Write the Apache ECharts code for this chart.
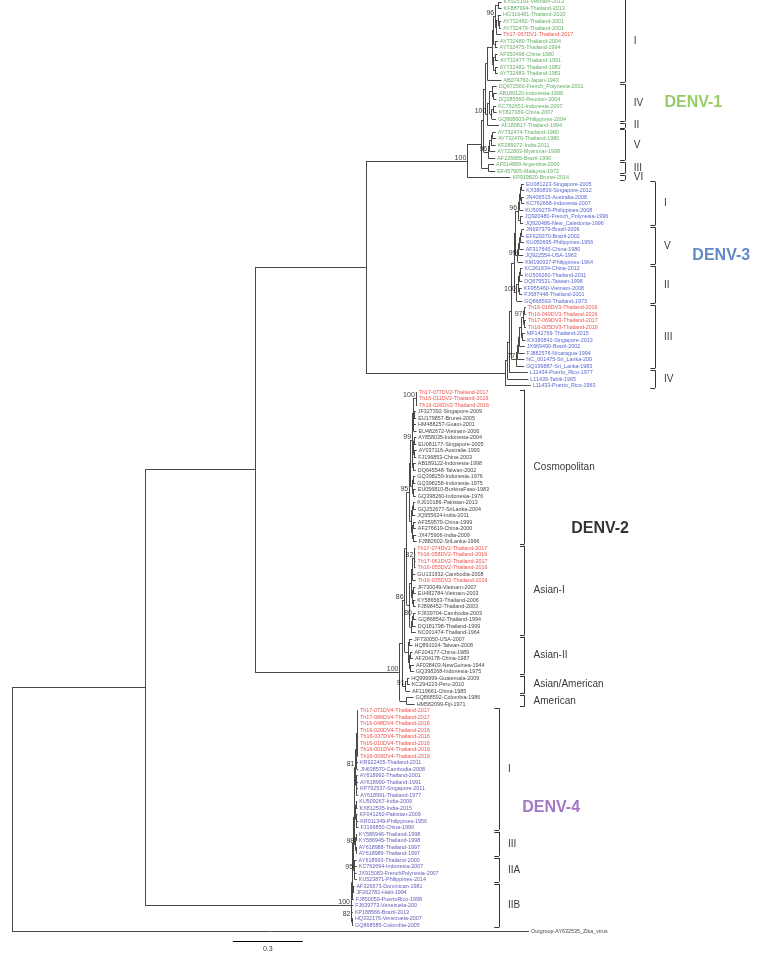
<!DOCTYPE html>
<html>
<head>
<meta charset="utf-8">
<script src="https://cdn.jsdelivr.net/npm/echarts@6/dist/echarts.min.js"></script>
<style>html,body{margin:0;padding:0;background:#fff}#c{width:758px;height:953px}</style>
</head>
<body>
<div id="c"></div>
<script>
// ---------------- DATA (Newick pieces: leaf names, branch lengths, bootstrap values) ----------------
const d1_I = "(((((KX925191-Vietnam-2013:0.015,KF887994-Thailand-2013:0.015):0.012,((HG316481-Thailand-2010:0.014,(AY732482-Thailand-2001:0.008,AY732479-Thailand-2001:0.008):0.006):0.005,Th17-067DV1-Thailand-2017:0.02):0.006)96:0.008,(AY732480-Thailand-2004:0.014,AY732475-Thailand-1994:0.012):0.006):0.006,((AF350498-China-1980:0.012,AY732477-Thailand-1991:0.014):0.006,(AY732481-Thailand-1982:0.012,AY732483-Thailand-1981:0.012):0.007):0.006):0.02,AB074760-Japan-1943:0.06)";
const d1_IV = "((DQ672560-French_Polynesia-2001:0.02,(AB189120-Indonesia-1998:0.014,DQ285560-Reunion-2004:0.012):0.007):0.01,((KC762651-Indonesia-2007:0.012,KT827369-China-2007:0.014):0.007,GQ868603-Philippines-2004:0.018):0.009)";
const d1_V = "((((AY732474-Thailand-1980:0.014,AY732476-Thailand-1980:0.016):0.006,KF289072-India-2011:0.02):0.006,AY722803-Myanmar-1998:0.024):0.006,AF226685-Brazil-1990:0.03)96";
const d1_III = "(AF514889-Argentina-2000:0.025,EF457905-Malaysia-1972:0.03)";
const denv1 = `((((${d1_I}:0.008,(${d1_IV}:0.01,AF180817-Thailand-1994:0.05)100:0.008):0.008,${d1_V}:0.02):0.01,${d1_III}:0.03):0.06,KR919820-Brunei-2014:0.185)`;

const d3_I = "((((EU081223-Singapore-2005:0.01,KX380839-Singapore-2012:0.012):0.005,(JN406515-Australia-2008:0.01,KC762668-Indonesia-2007:0.012):0.005):0.004,KU509279-Philippines-2008:0.016):0.006,(JQ920480-French_Polynesia-1996:0.012,JQ920486-New_Caledonia-1996:0.014):0.008)96";
const d3_V = "(((((JN697379-Brazil-2006:0.01,EF629370-Brazil-2002:0.01):0.005,KU050695-Philippines-1956:0.016):0.004,AF317645-China-1980:0.018):0.004,JQ922554-USA-1963:0.02):0.004,KM190937-Philippines-1964:0.024)99";
const d3_II = "((((KC261634-China-2012:0.01,KU509260-Thailand-2011:0.012):0.005,DQ675531-Taiwan-1998:0.014):0.005,(KF955460-Vietnam-2008:0.012,FJ687448-Thailand-2001:0.014):0.005):0.005,GQ868593-Thailand-1973:0.024)100";
const d3_III = "(((((((Th16-016DV3-Thailand-2016:0.006,Th16-040DV3-Thailand-2016:0.006):0.004,(Th17-069DV3-Thailand-2017:0.008,Th16-005DV3-Thailand-2016:0.008):0.003)97:0.01,(MF142769-Thailand-2015:0.012,KX380842-Singapore-2013:0.014):0.004):0.006,JX669490-Brazil-2002:0.022):0.005,FJ882576-Nicaragua-1994:0.026):0.005,NC_001475-Sri_Lanka-200:0.03):0.005,GQ199887-Sri_Lanka-1983:0.034)77";
const denv3 = `((((((${d3_I}:0.01,${d3_V}:0.008):0.008,${d3_II}:0.012):0.01,${d3_III}:0.02):0.01,L11434-Puerto_Rico-1977:0.08):0.008,L11439-Tahiti-1965:0.09):0.01,L11433-Puerto_Rico-1963:0.11)`;

const d2_cosmoA = "(((Th17-077DV2-Thailand-2017:0.004,Th16-011DV2-Thailand-2016:0.005,Th16-026DV2-Thailand-2016:0.006)100:0.012,(JF327392-Singapore-2009:0.008,EU179857-Brunei-2005:0.01):0.004,(HM488257-Guam-2001:0.01,EU482672-Vietnam-2006:0.012):0.003):0.004,((AY858035-Indonesia-2004:0.01,EU081177-Singapore-2005:0.01):0.004,(AY037116-Australia-1993:0.012,FJ196853-China-2003:0.01):0.004):0.004,(AB189122-Indonesia-1998:0.012,DQ645548-Taiwan-2002:0.012):0.004)99";
const d2_cosmoB = "((GQ398259-Indonesia-1976:0.01,GQ398258-Indonesia-1975:0.01):0.004,(EU056810-BurkinaFaso-1983:0.012,GQ398260-Indonesia-1976:0.012):0.004)";
const d2_cosmoC = "(((KJ010186-Pakistan-2013:0.01,GQ252677-SriLanka-2004:0.012):0.004,JQ955624-India-2011:0.014):0.004,((AF359579-China-1999:0.012,AF276619-China-2000:0.012):0.004,(JX475906-India-2009:0.014,FJ882602-SriLanka-1996:0.016):0.004):0.004)";
const d2_cosmo = `((${d2_cosmoA}:0.006,${d2_cosmoB}:0.006):0.006,${d2_cosmoC}:0.008)95`;
const d2_asianI = "((((Th17-074DV2-Thailand-2017:0.004,Th16-058DV2-Thailand-2016:0.004,Th17-061DV2-Thailand-2017:0.005,Th16-055DV2-Thailand-2016:0.005)82:0.008,GU131932-Cambodia-2008:0.012,Th16-035DV2-Thailand-2016:0.014):0.006,((JF730049-Vietnam-2007:0.01,EU482784-Vietnam-2003:0.012):0.004,(KY586563-Thailand-2006:0.01,FJ898452-Thailand-2003:0.012):0.004):0.004):0.006,(((FJ639704-Cambodia-2003:0.012,GQ868542-Thailand-1994:0.014)80:0.004,DQ181798-Thailand-1999:0.016):0.004,NC001474-Thailand-1964:0.02):0.006)";
const d2_asianII = "((JF730050-USA-2007:0.012,HQ891024-Taiwan-2008:0.014):0.006,((AF204177-China-1989:0.01,AF204178-China-1987:0.012):0.004,(AF038403-NewGuinea-1944:0.016,GQ398268-Indonesia-1975:0.016):0.004):0.006)";
const d2_asianAm = "((HQ999999-Guatemala-2009:0.01,KC294223-Peru-2010:0.012):0.006,AF119661-China-1985:0.02)91";
const d2_american = "(GQ868592-Colombia-1986:0.03,HM582099-Fiji-1971:0.035)";
const denv2 = `((((${d2_cosmo}:0.012,${d2_asianI}:0.014):0.008,${d2_asianII}:0.014)86:0.01,${d2_asianAm}:0.014):0.012,${d2_american}:0.03)`;

const d4_I = "((((Th17-071DV4-Thailand-2017:0.002,Th17-086DV4-Thailand-2017:0.002,Th16-048DV4-Thailand-2016:0.002,Th16-020DV4-Thailand-2016:0.002,Th16-037DV4-Thailand-2016:0.003,Th16-010DV4-Thailand-2016:0.002,Th16-001DV4-Thailand-2016:0.003,Th16-006DV4-Thailand-2016:0.003):0.006,(KR922405-Thailand-2011:0.006,JN638570-Cambodia-2008:0.007):0.002):0.003,((AY618992-Thailand-2001:0.006,AY618990-Thailand-1991:0.007):0.002,(KP792537-Singapore-2011:0.007,AY618991-Thailand-1977:0.008):0.002):0.002)81:0.003,((KU509267-India-2009:0.006,KX812535-India-2015:0.007):0.002,(KF041260-Pakistan-2009:0.007,(KR011349-Philippines-1956:0.008,FJ196850-China-1990:0.009):0.002):0.002):0.003)";
const d4_III = "((KY586946-Thailand-1998:0.004,KY586945-Thailand-1998:0.004):0.003,(AY618988-Thailand-1997:0.004,AY618989-Thailand-1997:0.004):0.003)98";
const d4_IIA = "((AY618993-Thailand-2000:0.008,KC762694-Indonesia-2007:0.009):0.003,(JX915083-FrenchPolynesia-2007:0.008,KU523871-Philippines-2014:0.009):0.003)95";
const denv4 = `((((((${d4_I}:0.004,${d4_III}:0.006):0.003,${d4_IIA}:0.004):0.003,(AF326573-Dominican-1981:0.006,JF262782-Haiti-1994:0.005):0.003):0.002,FJ850059-PuertoRico-1998:0.008):0.002,FJ639773-Venezuela-200:0.008):0.002,(KP188566-Brazil-2013:0.006,(HQ332176-Venezuela-2007:0.004,GQ868585-Colombia-2005:0.005):0.002)82:0.002)`;

const fullTree = `((((${denv1}100:0.435,${denv3}:0.597):0.476,${denv2}100:0.62):0.472,${denv4}100:0.884):0.571,Outgroup-AY632535_Zika_virus:2.219)`;

// genotype brackets: [label, first leaf, last leaf]
const brk1 = [["I","KX925191-Vietnam-2013","AB074760-Japan-1943"],["IV","DQ672560-French_Polynesia-2001","GQ868603-Philippines-2004"],["II","AF180817-Thailand-1994","AF180817-Thailand-1994"],["V","AY732474-Thailand-1980","AF226685-Brazil-1990"],["III","AF514889-Argentina-2000","EF457905-Malaysia-1972"],["VI","KR919820-Brunei-2014","KR919820-Brunei-2014"]];
const brk3 = [["I","EU081223-Singapore-2005","JQ920486-New_Caledonia-1996"],["V","JN697379-Brazil-2006","KM190937-Philippines-1964"],["II","KC261634-China-2012","GQ868593-Thailand-1973"],["III","Th16-016DV3-Thailand-2016","GQ199887-Sri_Lanka-1983"],["IV","L11434-Puerto_Rico-1977","L11433-Puerto_Rico-1963"]];
const brk2 = [["Cosmopolitan","Th17-077DV2-Thailand-2017","FJ882602-SriLanka-1996"],["Asian-I","Th17-074DV2-Thailand-2017","NC001474-Thailand-1964"],["Asian-II","JF730050-USA-2007","GQ398268-Indonesia-1975"],["Asian/American","HQ999999-Guatemala-2009","AF119661-China-1985"],["American","GQ868592-Colombia-1986","HM582099-Fiji-1971"]];
const brk4 = [["I","Th17-071DV4-Thailand-2017","FJ196850-China-1990"],["III","KY586946-Thailand-1998","AY618989-Thailand-1997"],["IIA","AY618993-Thailand-2000","KU523871-Philippines-2014"],["IIB","AF326573-Dominican-1981","GQ868585-Colombia-2005"]];
const serotypeNames = ["DENV-1","DENV-3","DENV-2","DENV-4"];
const scaleBarLength = 0.3;

// ---------------- parse & layout ----------------
function parseNewick(s){
  let i=0;
  function node(){
    const n={children:[],name:'',len:0};
    if(s[i]==='('){ i++; n.children.push(node()); while(s[i]===','){ i++; n.children.push(node()); } i++; }
    let name=''; while(i<s.length && !',):;'.includes(s[i])) name+=s[i++];
    n.name=name;
    if(s[i]===':'){ i++; let num=''; while(i<s.length && !',);'.includes(s[i])) num+=s[i++]; n.len=parseFloat(num); }
    return n;
  }
  return node();
}
const root = parseNewick(fullTree);
let leafIdx=0; const leaves=[]; const internals=[]; const segs=[];
function layout(n, px){
  n.x = px + n.len;
  if(!n.children.length){ n.y=leafIdx++; leaves.push(n); }
  else { n.children.forEach(c=>layout(c,n.x)); n.y=(n.children[0].y+n.children[n.children.length-1].y)/2; internals.push(n);
    segs.push([[n.x,n.children[0].y],[n.x,n.children[n.children.length-1].y]]); }
  if(n!==root) segs.push([[px,n.y],[n.x,n.y]]);
}
layout(root,0);
const leafByName={}; leaves.forEach(l=>leafByName[l.name]=l);

const serotypeOf = name => {
  for(const [k,s] of [[1,denv1],[3,denv3],[2,denv2],[4,denv4]]) if(s.includes(name+':')) return k;
  return 0;
};
const colors = {1:'#3c9a3c',3:'#2b3fbf',2:'#111111',4:'#3b35a6',0:'#111111'};
const leafData = leaves.map(l=>{
  const st=serotypeOf(l.name);
  const red=/^Th1[67]-/.test(l.name);
  return {name:l.name,value:[l.x,l.y],label:{color:red?'#e8261e':colors[st]}};
});
const bootData = internals.filter(n=>/^\d+$/.test(n.name)).map(n=>({name:n.name,value:[n.x,n.y]}));

// brackets
const brSegs=[]; const brText=[];
function addBrackets(list,bx,fs){
  list.forEach(([lab,a,b])=>{
    const y0=leafByName[a].y-0.35, y1=leafByName[b].y+0.35;
    brSegs.push([[bx,y0],[bx,y1]]);
    brSegs.push([[bx-0.02,y0],[bx,y0]]);
    brSegs.push([[bx-0.02,y1],[bx,y1]]);
    brText.push({name:lab,value:[bx,(y0+y1)/2],label:{fontSize:fs}});
  });
}
addBrackets(brk1,2.63,10);
addBrackets(brk3,2.76,10);
addBrackets(brk2,2.20,10);
addBrackets(brk4,2.09,10);

const bigLabels=[
  {name:serotypeNames[0],value:[2.80,leafByName["AB189120-Indonesia-1998"].y+1.5],label:{color:'#7cc142'}},
  {name:serotypeNames[1],value:[2.92,leafByName["JQ922554-USA-1963"].y],label:{color:'#3a6db5'}},
  {name:serotypeNames[2],value:[2.40,leafByName["AF276619-China-2000"].y],label:{color:'#000'}},
  {name:serotypeNames[3],value:[2.19,leafByName["KP792537-Singapore-2011"].y+3],label:{color:'#8c55b5'}}
];
const sbX=0.948, sbY=leaves.length+0.5;
const scaleSeg=[[[sbX,sbY],[sbX+scaleBarLength,sbY]]];

const chart=echarts.init(document.getElementById('c'),null,{renderer:'canvas'});
const FF='"Liberation Sans", Arial, sans-serif';
chart.setOption({
  animation:false,
  grid:{left:0,right:0,top:0,bottom:0},
  xAxis:{type:'value',min:-0.0515,max:3.2017,show:false},
  yAxis:{type:'value',inverse:true,min:-0.31,max:146.3,show:false},
  series:[
    {type:'lines',coordinateSystem:'cartesian2d',silent:true,polyline:false,
      lineStyle:{color:'#4a4a4a',width:1,opacity:1},data:segs.map(c=>({coords:c}))},
    {type:'lines',coordinateSystem:'cartesian2d',silent:true,
      lineStyle:{color:'#333',width:1,opacity:1},data:brSegs.map(c=>({coords:c}))},
    {type:'lines',coordinateSystem:'cartesian2d',silent:true,
      lineStyle:{color:'#000',width:1,opacity:1},data:scaleSeg.map(c=>({coords:c}))},
    {type:'scatter',symbolSize:0,silent:true,data:leafData,
      label:{show:true,position:'right',distance:2,fontSize:5.4,fontFamily:FF,formatter:p=>p.name}},
    {type:'scatter',symbolSize:0,silent:true,data:bootData,
      label:{show:true,position:'left',distance:1,offset:[0,-3],fontSize:7,color:'#000',fontFamily:FF,formatter:p=>p.name}},
    {type:'scatter',symbolSize:0,silent:true,data:brText,
      label:{show:true,position:'right',distance:9,color:'#000',fontFamily:FF,formatter:p=>p.name}},
    {type:'scatter',symbolSize:0,silent:true,data:bigLabels,
      label:{show:true,position:'right',distance:0,fontSize:16,fontWeight:'bold',fontFamily:FF,formatter:p=>p.name}},
    {type:'scatter',symbolSize:0,silent:true,data:[{name:String(scaleBarLength),value:[sbX+scaleBarLength/2,sbY]}],
      label:{show:true,position:'bottom',distance:4,fontSize:7,color:'#000',fontFamily:FF,formatter:p=>p.name}}
  ]
});
</script>
</body>
</html>
